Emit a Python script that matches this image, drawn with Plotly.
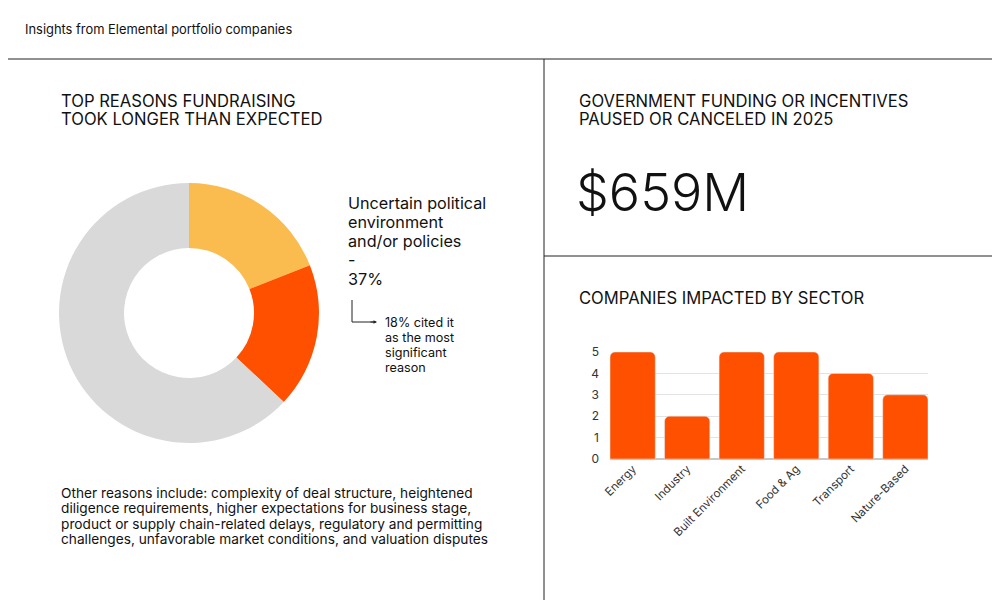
import plotly.graph_objects as go

# donut: share of companies citing the political environment
donut_labels = ["Cited, not the most significant", "Most significant reason", "Other reasons"]
donut_values = [19, 18, 63]
donut_colors = ["#FBBC4F", "#FF5000", "#D9D9D9"]

# bar chart: companies impacted by sector
sectors = ["Energy", "Industry", "Built Environment", "Food & Ag", "Transport", "Nature-Based"]
companies = [5, 2, 5, 5, 4, 3]

FONT = "Inter"
INK = "#111111"
W, H = 1000, 600
OFF = 8  # page margin that the browser adds around the figure
GAP = 0.17


def px(x):
    return (x - OFF) / W


def py(y):
    return 1 - (y - OFF) / H


fig = go.Figure()

fig.add_trace(go.Pie(
    labels=donut_labels, values=donut_values, hole=0.5, sort=False,
    direction="clockwise", rotation=0,
    marker=dict(colors=donut_colors, line=dict(width=0)),
    textinfo="none", hoverinfo="label+percent", showlegend=False,
    domain=dict(x=[px(59), px(319)], y=[py(443), py(183)]),
))

fig.add_trace(go.Bar(
    x=sectors, y=companies, marker=dict(color="#FF5000", cornerradius=5),
    showlegend=False, hovertemplate="%{x}: %{y}<extra></extra>",
))

fig.update_layout(
    width=W, height=H,
    margin=dict(l=0, r=0, t=0, b=0),
    paper_bgcolor="white", plot_bgcolor="white",
    font=dict(family=FONT, color=INK),
    bargap=GAP,
    xaxis=dict(domain=[px(610), px(928)], anchor="y", showgrid=False, showline=False,
               range=[-0.5 + GAP / 2, len(sectors) - 0.5 - GAP / 2],
               automargin=False, tickangle=-45,
               tickfont=dict(size=11.5, color="#333333"), ticks=""),
    yaxis=dict(domain=[py(459), py(352)], anchor="x", range=[0, 5],
               automargin=False, dtick=1, gridcolor="#E3E3E3",
               zeroline=True, zerolinecolor="#C8C8C8",
               tickfont=dict(size=12, color="#333333"), ticks="", ticklabelstandoff=10),
)

# panel dividers
line = dict(color="#222222", width=1)
fig.add_shape(type="line", xref="paper", yref="paper", x0=0, x1=1,
              y0=py(59), y1=py(59), line=line)
fig.add_shape(type="line", xref="paper", yref="paper", x0=px(544), x1=px(544),
              y0=0, y1=py(59), line=line)
fig.add_shape(type="line", xref="paper", yref="paper", x0=px(544), x1=1,
              y0=py(256), y1=py(256), line=line)


def txt(s, x, y, size, weight=400, color=INK):
    fig.add_annotation(text=s, x=px(x), y=py(y), xref="paper", yref="paper",
                       xanchor="left", yanchor="middle", showarrow=False,
                       font=dict(family=FONT, size=size, color=color, weight=weight))


txt("Insights from Elemental portfolio companies", 23, 30, 12.9)

txt("TOP REASONS FUNDRAISING", 59, 101, 16.6)
txt("TOOK LONGER THAN EXPECTED", 59, 119, 16.6)
txt("GOVERNMENT FUNDING OR INCENTIVES", 577, 101, 16.6)
txt("PAUSED OR CANCELED IN 2025", 577, 119, 16.6)
txt("$659M", 574, 192, 52, weight=300)
txt("COMPANIES IMPACTED BY SECTOR", 577, 298, 16.6)

for i, s in enumerate(["Uncertain political", "environment", "and/or policies", "-", "37%"]):
    txt(s, 346, 203 + 19 * i, 16.2)

for i, s in enumerate(["18% cited it", "as the most", "significant", "reason"]):
    txt(s, 383, 322 + 15 * i, 12.6)

# connector arrow
fig.add_shape(type="path", xref="paper", yref="paper",
              path=f"M {px(352)},{py(300)} L {px(352)},{py(322)} L {px(375)},{py(322)}",
              line=dict(color="#222222", width=1))
fig.add_annotation(x=px(377), y=py(322), ax=-8, ay=0,
                   xref="paper", yref="paper",
                   showarrow=True, arrowhead=2, arrowsize=0.7, arrowwidth=1,
                   arrowcolor="#222222", text="")

other = ["Other reasons include: complexity of deal structure, heightened",
         "diligence requirements, higher expectations for business stage,",
         "product or supply chain-related delays, regulatory and permitting",
         "challenges, unfavorable market conditions, and valuation disputes"]
for i, s in enumerate(other):
    txt(s, 59, 493 + 15.4 * i, 13.7)

fig.write_html("out.html")
